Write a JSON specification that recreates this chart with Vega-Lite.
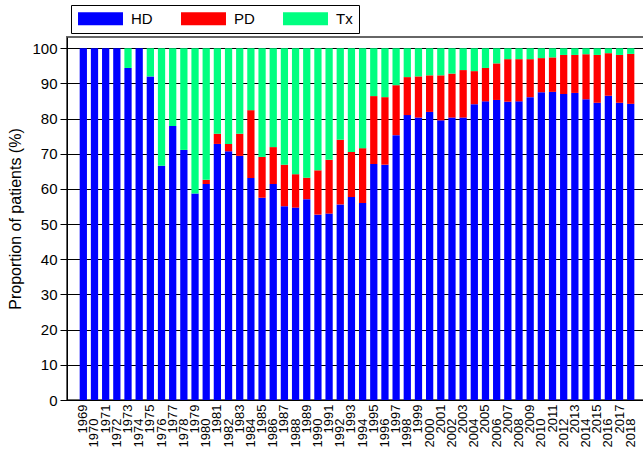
{
  "$schema": "https://vega.github.io/schema/vega-lite/v6.json",
  "autosize": "none",
  "width": 577,
  "height": 363,
  "padding": {"left": 67, "top": 37, "right": 0, "bottom": 55},
  "background": "white",
  "config": {
    "view": {"stroke": "#666666", "strokeWidth": 2},
    "font": "Liberation Sans",
    "axis": {"labelFont": "Liberation Sans", "titleFont": "Liberation Sans", "labelColor": "black", "titleColor": "black", "domainColor": "black", "tickColor": "black", "domainWidth": 1},
    "axisY": {"labelFontSize": 15, "labelPadding": 3, "tickSize": 7, "gridColor": "black", "gridOpacity": 1, "gridWidth": 1, "tickCount": 11},
    "axisX": {"labelAngle": 270, "labelFontSize": 13, "ticks": false, "tickSize": 0, "labelOverlap": false, "grid": false, "title": null}
  },
  "data": {
    "values": [
      {"year": 1969, "type": "HD", "value": 100}, {"year": 1969, "type": "PD", "value": 0}, {"year": 1969, "type": "Tx", "value": 0},
      {"year": 1970, "type": "HD", "value": 100}, {"year": 1970, "type": "PD", "value": 0}, {"year": 1970, "type": "Tx", "value": 0},
      {"year": 1971, "type": "HD", "value": 100}, {"year": 1971, "type": "PD", "value": 0}, {"year": 1971, "type": "Tx", "value": 0},
      {"year": 1972, "type": "HD", "value": 100}, {"year": 1972, "type": "PD", "value": 0}, {"year": 1972, "type": "Tx", "value": 0},
      {"year": 1973, "type": "HD", "value": 94.4}, {"year": 1973, "type": "PD", "value": 0}, {"year": 1973, "type": "Tx", "value": 5.6},
      {"year": 1974, "type": "HD", "value": 100}, {"year": 1974, "type": "PD", "value": 0}, {"year": 1974, "type": "Tx", "value": 0},
      {"year": 1975, "type": "HD", "value": 92.0}, {"year": 1975, "type": "PD", "value": 0}, {"year": 1975, "type": "Tx", "value": 8.0},
      {"year": 1976, "type": "HD", "value": 66.6}, {"year": 1976, "type": "PD", "value": 0}, {"year": 1976, "type": "Tx", "value": 33.4},
      {"year": 1977, "type": "HD", "value": 77.9}, {"year": 1977, "type": "PD", "value": 0}, {"year": 1977, "type": "Tx", "value": 22.1},
      {"year": 1978, "type": "HD", "value": 71.1}, {"year": 1978, "type": "PD", "value": 0}, {"year": 1978, "type": "Tx", "value": 28.9},
      {"year": 1979, "type": "HD", "value": 58.7}, {"year": 1979, "type": "PD", "value": 0}, {"year": 1979, "type": "Tx", "value": 41.3},
      {"year": 1980, "type": "HD", "value": 61.4}, {"year": 1980, "type": "PD", "value": 1.2}, {"year": 1980, "type": "Tx", "value": 37.4},
      {"year": 1981, "type": "HD", "value": 72.8}, {"year": 1981, "type": "PD", "value": 2.9}, {"year": 1981, "type": "Tx", "value": 24.3},
      {"year": 1982, "type": "HD", "value": 70.7}, {"year": 1982, "type": "PD", "value": 2.1}, {"year": 1982, "type": "Tx", "value": 27.2},
      {"year": 1983, "type": "HD", "value": 69.4}, {"year": 1983, "type": "PD", "value": 6.3}, {"year": 1983, "type": "Tx", "value": 24.3},
      {"year": 1984, "type": "HD", "value": 63.1}, {"year": 1984, "type": "PD", "value": 19.3}, {"year": 1984, "type": "Tx", "value": 17.6},
      {"year": 1985, "type": "HD", "value": 57.5}, {"year": 1985, "type": "PD", "value": 11.6}, {"year": 1985, "type": "Tx", "value": 30.9},
      {"year": 1986, "type": "HD", "value": 61.4}, {"year": 1986, "type": "PD", "value": 10.5}, {"year": 1986, "type": "Tx", "value": 28.1},
      {"year": 1987, "type": "HD", "value": 55.1}, {"year": 1987, "type": "PD", "value": 11.8}, {"year": 1987, "type": "Tx", "value": 33.1},
      {"year": 1988, "type": "HD", "value": 54.7}, {"year": 1988, "type": "PD", "value": 9.5}, {"year": 1988, "type": "Tx", "value": 35.8},
      {"year": 1989, "type": "HD", "value": 57.1}, {"year": 1989, "type": "PD", "value": 6.1}, {"year": 1989, "type": "Tx", "value": 36.8},
      {"year": 1990, "type": "HD", "value": 52.7}, {"year": 1990, "type": "PD", "value": 12.6}, {"year": 1990, "type": "Tx", "value": 34.7},
      {"year": 1991, "type": "HD", "value": 53.0}, {"year": 1991, "type": "PD", "value": 15.3}, {"year": 1991, "type": "Tx", "value": 31.7},
      {"year": 1992, "type": "HD", "value": 55.6}, {"year": 1992, "type": "PD", "value": 18.4}, {"year": 1992, "type": "Tx", "value": 26.0},
      {"year": 1993, "type": "HD", "value": 57.7}, {"year": 1993, "type": "PD", "value": 12.8}, {"year": 1993, "type": "Tx", "value": 29.5},
      {"year": 1994, "type": "HD", "value": 56.0}, {"year": 1994, "type": "PD", "value": 15.6}, {"year": 1994, "type": "Tx", "value": 28.4},
      {"year": 1995, "type": "HD", "value": 67.1}, {"year": 1995, "type": "PD", "value": 19.3}, {"year": 1995, "type": "Tx", "value": 13.6},
      {"year": 1996, "type": "HD", "value": 66.9}, {"year": 1996, "type": "PD", "value": 19.2}, {"year": 1996, "type": "Tx", "value": 13.9},
      {"year": 1997, "type": "HD", "value": 75.3}, {"year": 1997, "type": "PD", "value": 14.2}, {"year": 1997, "type": "Tx", "value": 10.5},
      {"year": 1998, "type": "HD", "value": 81.0}, {"year": 1998, "type": "PD", "value": 10.8}, {"year": 1998, "type": "Tx", "value": 8.2},
      {"year": 1999, "type": "HD", "value": 80.3}, {"year": 1999, "type": "PD", "value": 11.7}, {"year": 1999, "type": "Tx", "value": 8.0},
      {"year": 2000, "type": "HD", "value": 81.9}, {"year": 2000, "type": "PD", "value": 10.4}, {"year": 2000, "type": "Tx", "value": 7.7},
      {"year": 2001, "type": "HD", "value": 79.5}, {"year": 2001, "type": "PD", "value": 12.8}, {"year": 2001, "type": "Tx", "value": 7.7},
      {"year": 2002, "type": "HD", "value": 80.3}, {"year": 2002, "type": "PD", "value": 12.5}, {"year": 2002, "type": "Tx", "value": 7.2},
      {"year": 2003, "type": "HD", "value": 80.3}, {"year": 2003, "type": "PD", "value": 13.5}, {"year": 2003, "type": "Tx", "value": 6.2},
      {"year": 2004, "type": "HD", "value": 84.1}, {"year": 2004, "type": "PD", "value": 9.4}, {"year": 2004, "type": "Tx", "value": 6.5},
      {"year": 2005, "type": "HD", "value": 84.9}, {"year": 2005, "type": "PD", "value": 9.5}, {"year": 2005, "type": "Tx", "value": 5.6},
      {"year": 2006, "type": "HD", "value": 85.3}, {"year": 2006, "type": "PD", "value": 10.4}, {"year": 2006, "type": "Tx", "value": 4.3},
      {"year": 2007, "type": "HD", "value": 84.8}, {"year": 2007, "type": "PD", "value": 12.1}, {"year": 2007, "type": "Tx", "value": 3.1},
      {"year": 2008, "type": "HD", "value": 84.9}, {"year": 2008, "type": "PD", "value": 12.0}, {"year": 2008, "type": "Tx", "value": 3.1},
      {"year": 2009, "type": "HD", "value": 86.1}, {"year": 2009, "type": "PD", "value": 10.8}, {"year": 2009, "type": "Tx", "value": 3.1},
      {"year": 2010, "type": "HD", "value": 87.5}, {"year": 2010, "type": "PD", "value": 9.7}, {"year": 2010, "type": "Tx", "value": 2.8},
      {"year": 2011, "type": "HD", "value": 87.6}, {"year": 2011, "type": "PD", "value": 9.8}, {"year": 2011, "type": "Tx", "value": 2.6},
      {"year": 2012, "type": "HD", "value": 87.0}, {"year": 2012, "type": "PD", "value": 11.1}, {"year": 2012, "type": "Tx", "value": 1.9},
      {"year": 2013, "type": "HD", "value": 87.3}, {"year": 2013, "type": "PD", "value": 10.8}, {"year": 2013, "type": "Tx", "value": 1.9},
      {"year": 2014, "type": "HD", "value": 85.5}, {"year": 2014, "type": "PD", "value": 12.8}, {"year": 2014, "type": "Tx", "value": 1.7},
      {"year": 2015, "type": "HD", "value": 84.5}, {"year": 2015, "type": "PD", "value": 13.6}, {"year": 2015, "type": "Tx", "value": 1.9},
      {"year": 2016, "type": "HD", "value": 86.5}, {"year": 2016, "type": "PD", "value": 12.1}, {"year": 2016, "type": "Tx", "value": 1.4},
      {"year": 2017, "type": "HD", "value": 84.5}, {"year": 2017, "type": "PD", "value": 13.6}, {"year": 2017, "type": "Tx", "value": 1.9},
      {"year": 2018, "type": "HD", "value": 84.2}, {"year": 2018, "type": "PD", "value": 14.2}, {"year": 2018, "type": "Tx", "value": 1.6}
    ]
  },
  "resolve": {"axis": {"x": "independent"}},
  "layer": [
    {
      "mark": {"type": "bar"},
      "encoding": {
        "x": {
          "field": "year",
          "type": "ordinal",
          "scale": {"paddingInner": 0.35, "paddingOuter": 1.026, "align": 0.568},
          "axis": {
            "orient": "bottom",
            "title": null,
            "labelPadding": 4,
            "values": [1969, 1971, 1973, 1975, 1977, 1979, 1981, 1983, 1985, 1987, 1989, 1991, 1993, 1995, 1997, 1999, 2001, 2003, 2005, 2007, 2009, 2011, 2013, 2015, 2017]
          }
        },
        "y": {
          "field": "value",
          "type": "quantitative",
          "stack": "zero",
          "scale": {"domain": [0, 103.2], "nice": false},
          "axis": {
            "title": "Proportion  of patients (%)",
            "titleFontSize": 16,
            "titleFontWeight": "normal",
            "titlePadding": 8,
            "values": [0, 10, 20, 30, 40, 50, 60, 70, 80, 90, 100],
            "grid": true
          }
        },
        "color": {
          "field": "type",
          "type": "nominal",
          "scale": {"domain": ["HD", "PD", "Tx"], "range": ["#0000FF", "#FF0000", "#00FF80"]},
          "legend": {
            "title": null,
            "orient": "none",
            "legendX": 4,
            "legendY": -32,
            "direction": "horizontal",
            "symbolType": "M-3.46,-1L3.46,-1L3.46,1L-3.46,1Z",
            "symbolSize": 169,
            "symbolOffset": 16,
            "symbolStrokeWidth": 0,
            "symbolOpacity": 1,
            "labelFont": "Liberation Sans",
            "labelFontSize": 15,
            "labelColor": "black",
            "labelOffset": 23,
            "columnPadding": 27,
            "padding": 6,
            "strokeColor": "black",
            "fillColor": "white"
          }
        },
        "order": {"field": "type", "sort": "ascending"}
      }
    },
    {
      "mark": {"type": "rule", "opacity": 0},
      "encoding": {
        "x": {
          "field": "year",
          "type": "ordinal",
          "axis": {
            "orient": "bottom",
            "title": null,
            "labelPadding": 18,
            "values": [1970, 1972, 1974, 1976, 1978, 1980, 1982, 1984, 1986, 1988, 1990, 1992, 1994, 1996, 1998, 2000, 2002, 2004, 2006, 2008, 2010, 2012, 2014, 2016, 2018]
          }
        }
      }
    }
  ]
}
